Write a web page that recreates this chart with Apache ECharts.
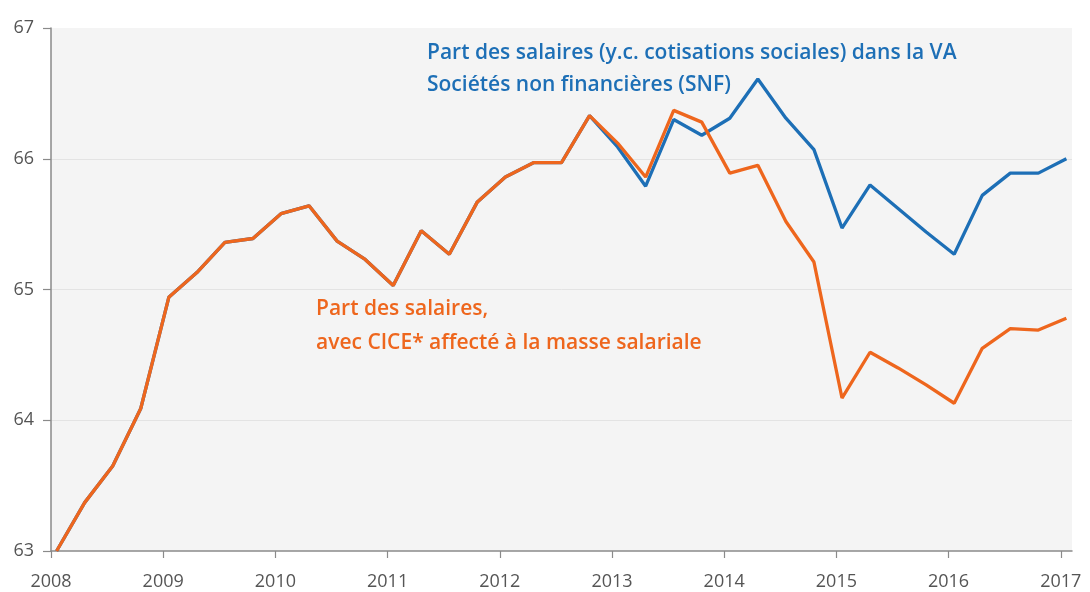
<!DOCTYPE html>
<html>
<head>
<meta charset="utf-8">
<script src="https://cdn.jsdelivr.net/npm/echarts@6/dist/echarts.min.js"></script>
<style>
html,body{margin:0;padding:0;background:#fff;}
#c{width:1090px;height:592px;}
</style>
</head>
<body>
<div id="c"></div>
<script>
// Quarters (T = trimestre)
const quarters = [
  "2008T1","2008T2","2008T3","2008T4",
  "2009T1","2009T2","2009T3","2009T4",
  "2010T1","2010T2","2010T3","2010T4",
  "2011T1","2011T2","2011T3","2011T4",
  "2012T1","2012T2","2012T3","2012T4",
  "2013T1","2013T2","2013T3","2013T4",
  "2014T1","2014T2","2014T3","2014T4",
  "2015T1","2015T2","2015T3","2015T4",
  "2016T1","2016T2","2016T3","2016T4",
  "2017T1"
];
// Part des salaires (y.c. cotisations sociales) dans la VA — SNF
const partSalairesSNF = [
  63.00,63.37,63.65,64.09,
  64.94,65.13,65.36,65.39,
  65.58,65.64,65.37,65.23,
  65.03,65.45,65.27,65.67,
  65.86,65.97,65.97,66.33,
  66.09,65.79,66.30,66.18,
  66.31,66.61,66.31,66.07,
  65.47,65.80,65.62,65.44,
  65.27,65.72,65.89,65.89,
  66.00
];
// Part des salaires, avec CICE affecté à la masse salariale
const partSalairesCICE = [
  63.00,63.37,63.65,64.09,
  64.94,65.13,65.36,65.39,
  65.58,65.64,65.37,65.23,
  65.03,65.45,65.27,65.67,
  65.86,65.97,65.97,66.33,
  66.12,65.86,66.37,66.28,
  65.89,65.95,65.52,65.21,
  64.17,64.52,64.40,64.27,
  64.13,64.55,64.70,64.69,
  64.78
];
const yearTicks = [2008,2009,2010,2011,2012,2013,2014,2015,2016,2017];

const BLUE = '#1d6fb6';
const ORANGE = '#ee661d';

// position of each quarter on the time axis (plotted just after start of quarter)
function qx(q){ const y = parseInt(q.slice(0,4),10); const t = parseInt(q.slice(5),10); return y + (t-1)/4 + 0.05; }
const snfData = quarters.map((q,i)=>[qx(q), partSalairesSNF[i]]);
const ciceData = quarters.map((q,i)=>[qx(q), partSalairesCICE[i]]);

const chart = echarts.init(document.getElementById('c'));
chart.setOption({
  animation:false,
  backgroundColor:'#ffffff',
  grid:{left:51,right:18,top:28,bottom:41,show:true,backgroundColor:'#f4f4f4',borderWidth:0},
  xAxis:{
    type:'value',min:2008,max:2017.1,interval:1,
    axisLine:{show:true,lineStyle:{color:'#8a8a8a',width:1.5}},
    axisTick:{show:true,length:7,lineStyle:{color:'#8a8a8a',width:1.2},customValues:yearTicks},
    axisLabel:{color:'#555',fontFamily:'Open Sans',fontSize:18,margin:22,customValues:yearTicks,formatter:v=>String(v)},
    splitLine:{show:false}
  },
  yAxis:{
    type:'value',min:63,max:67,interval:1,
    axisLine:{show:true,lineStyle:{color:'#8a8a8a',width:1.5}},
    axisTick:{show:true,length:8,lineStyle:{color:'#8a8a8a',width:1.2}},
    axisLabel:{color:'#555',fontFamily:'Open Sans',fontSize:18,margin:17,padding:[0,0,5,0]},
    splitLine:{show:true,showMinLine:false,showMaxLine:false,lineStyle:{color:'#e3e3e3',width:1}}
  },
  series:[
    {type:'line',name:'SNF',data:snfData,symbol:'none',lineStyle:{color:BLUE,width:3.3},z:2},
    {type:'line',name:'CICE',data:ciceData,symbol:'none',lineStyle:{color:ORANGE,width:3.3},z:3}
  ],
  graphic:[
    {type:'text',left:427,top:37,style:{text:'Part des salaires (y.c. cotisations sociales) dans la VA\nSociétés non financières (SNF)',fill:BLUE,font:'600 21px "Open Sans"',lineHeight:32}},
    {type:'text',left:316,top:292,style:{text:'Part des salaires,\navec CICE* affecté à la masse salariale',fill:ORANGE,font:'600 21px "Open Sans"',lineHeight:34}}
  ]
});
</script>
</body>
</html>
